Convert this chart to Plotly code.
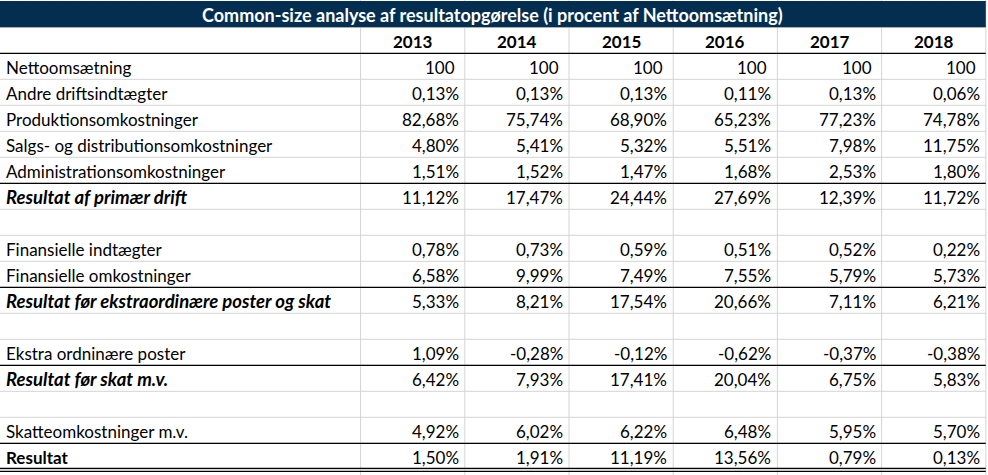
import plotly.graph_objects as go

title = "Common-size analyse af resultatopgørelse (i procent af Nettoomsætning)"
years = ["2013", "2014", "2015", "2016", "2017", "2018"]
labels = ["Nettoomsætning", "Andre driftsindtægter", "Produktionsomkostninger",
          "Salgs- og distributionsomkostninger", "Administrationsomkostninger",
          "Resultat af primær drift", "", "Finansielle indtægter", "Finansielle omkostninger",
          "Resultat før ekstraordinære poster og skat", "", "Ekstra ordninære poster",
          "Resultat før skat m.v.", "", "Skatteomkostninger m.v.", "Resultat"]
v2013 = [100, 0.13, 82.68, 4.80, 1.51, 11.12, None, 0.78, 6.58, 5.33, None, 1.09, 6.42, None, 4.92, 1.50]
v2014 = [100, 0.13, 75.74, 5.41, 1.52, 17.47, None, 0.73, 9.99, 8.21, None, -0.28, 7.93, None, 6.02, 1.91]
v2015 = [100, 0.13, 68.90, 5.32, 1.47, 24.44, None, 0.59, 7.49, 17.54, None, -0.12, 17.41, None, 6.22, 11.19]
v2016 = [100, 0.11, 65.23, 5.51, 1.68, 27.69, None, 0.51, 7.55, 20.66, None, -0.62, 20.04, None, 6.48, 13.56]
v2017 = [100, 0.13, 77.23, 7.98, 2.53, 12.39, None, 0.52, 5.79, 7.11, None, -0.37, 6.75, None, 5.95, 0.79]
v2018 = [100, 0.06, 74.78, 11.75, 1.80, 11.72, None, 0.22, 5.73, 6.21, None, -0.38, 5.83, None, 5.70, 0.13]
values = [v2013, v2014, v2015, v2016, v2017, v2018]

# which rows are subtotals: "bi" = bold italic, "b" = bold
row_style = {5: "bi", 9: "bi", 12: "bi", 15: "b"}
thick_above = [5, 9, 12, 15]

FONT = "Lato, sans-serif"
FS = 17
NAVY = "#032e4f"
GRID = "#d4d4d4"

xlab = 360.6
colw = 104.2
xr = xlab + colw * len(years)
top_title, top_head, top_rows = 1, 27.3, 53.3
rowh = 26.0
ybot = top_rows + rowh * len(labels)


def fmt(v, i):
    if i == 0:
        return f"{v:g}"
    return f"{v:.2f}%".replace(".", ",")


fig = go.Figure()
shapes = []
ann = []

# vertical gridlines
for k in range(len(years) + 1):
    xx = xlab + colw * k
    shapes.append(dict(type="line", x0=xx, x1=xx, y0=0, y1=475, line=dict(color=GRID, width=1)))
# horizontal gridlines
for i in range(len(labels)):
    yy = top_rows + rowh * (i + 1)
    shapes.append(dict(type="line", x0=0, x1=xr, y0=yy, y1=yy, line=dict(color=GRID, width=1)))
shapes.append(dict(type="line", x0=0, x1=xr, y0=top_head, y1=top_head, line=dict(color=GRID, width=1)))

# title band
shapes.append(dict(type="rect", x0=0, x1=xr, y0=top_title, y1=top_head, fillcolor=NAVY, line=dict(width=0)))

# black rules
shapes.append(dict(type="line", x0=0, x1=xr, y0=top_rows, y1=top_rows, line=dict(color="black", width=1.3)))
for i in thick_above:
    yy = top_rows + rowh * i
    shapes.append(dict(type="line", x0=0, x1=xr, y0=yy, y1=yy, line=dict(color="black", width=1.3)))
for yy in [ybot - 1, ybot + 2]:
    shapes.append(dict(type="line", x0=0, x1=xr, y0=yy, y1=yy, line=dict(color="black", width=1.3)))

ann.append(dict(x=xr / 2, y=(top_title + top_head) / 2 + 1, text="<b>" + title + "</b>",
                showarrow=False, font=dict(family=FONT, size=18, color="white"), xanchor="center", yanchor="middle"))

for k, yr in enumerate(years):
    ann.append(dict(x=xlab + colw * (k + 0.5), y=(top_head + top_rows) / 2 + 1, text="<b>" + yr + "</b>",
                    showarrow=False, font=dict(family=FONT, size=FS, color="black"), xanchor="center", yanchor="middle"))

for i, lab in enumerate(labels):
    yc = top_rows + rowh * (i + 0.5) + 1
    st = row_style.get(i, "")
    txt = lab
    size = FS
    if "b" in st:
        txt = "<b>" + txt + "</b>"
    if "i" in st:
        txt = "<i>" + txt + "</i>"
        size = 18.5
    if lab:
        ann.append(dict(x=4, y=yc, text=txt, showarrow=False, font=dict(family=FONT, size=size, color="black"),
                        xanchor="left", yanchor="middle"))
    for k, col in enumerate(values):
        v = col[i]
        if v is None:
            continue
        pad = 8 if i == 0 else 4
        ann.append(dict(x=xlab + colw * (k + 1) - pad, y=yc, text=fmt(v, i), showarrow=False,
                        font=dict(family=FONT, size=FS, color="black"), xanchor="right", yanchor="middle"))

fig.update_layout(
    width=988, height=475,
    margin=dict(l=0, r=0, t=0, b=0),
    paper_bgcolor="white", plot_bgcolor="white",
    xaxis=dict(range=[0, 988], visible=False, fixedrange=True),
    yaxis=dict(range=[475, 0], visible=False, fixedrange=True),
    shapes=shapes, annotations=ann, showlegend=False,
)
fig.write_html("out.html", config=dict(displayModeBar=False),
               post_script="document.body.style.margin='0px';document.body.style.overflow='hidden';")
